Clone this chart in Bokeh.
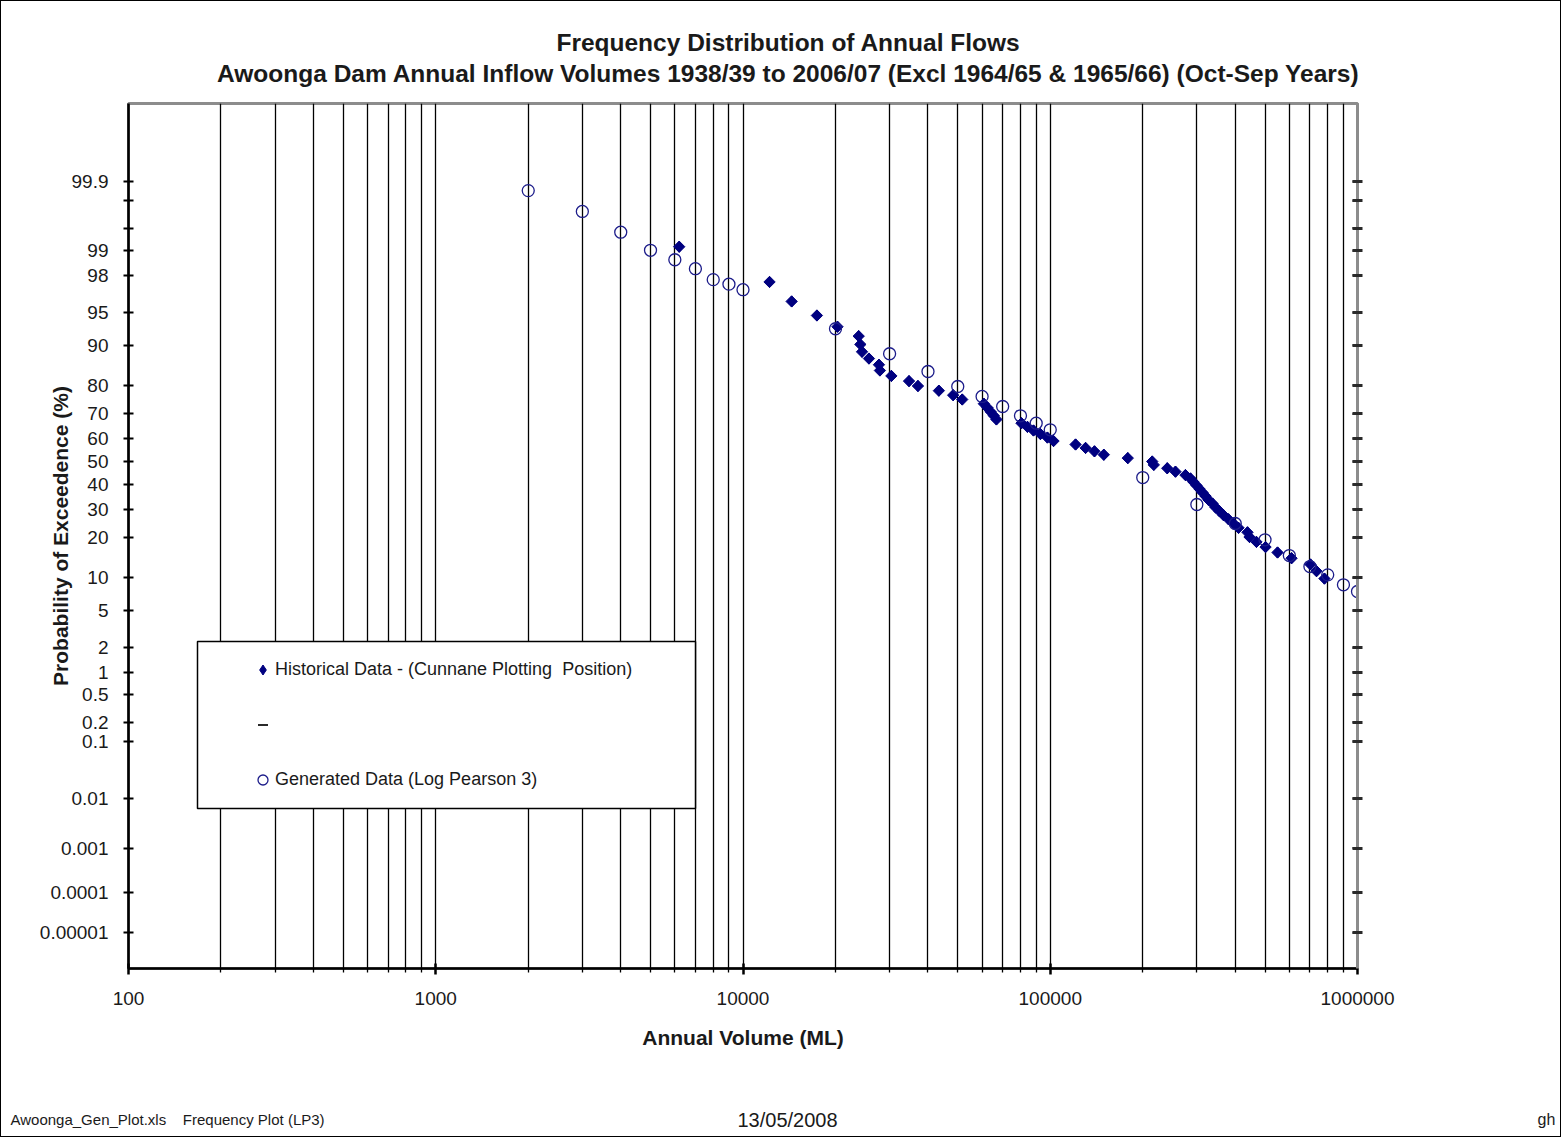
import math
from bokeh.plotting import figure
from bokeh.layouts import column
from bokeh.models import (Range1d, FixedTicker, LinearAxis, Label, Legend, LegendItem,
                          BoxAnnotation)
from bokeh.embed import file_html
from bokeh.resources import INLINE

# ---------------- data ----------------
# Generated data (Log Pearson 3): annual volume (ML) and exceedance probability (%)
gen_volume = [2000, 3000, 4000, 5000, 6000, 7000, 8000, 9000, 10000,
              20000, 30000, 40000, 50000, 60000, 70000, 80000, 90000, 100000,
              200000, 300000, 400000, 500000, 600000, 700000, 800000, 900000, 1000000]
gen_exceed = [99.86, 99.71, 99.43, 99.01, 98.70, 98.33, 97.76, 97.48, 97.10,
              92.85, 88.27, 83.97, 79.61, 76.35, 72.81, 69.30, 66.38, 63.68,
              42.98, 31.75, 24.69, 19.38, 14.97, 12.32, 10.55, 8.68, 7.57]

# Historical data (Cunnane plotting position)
hist_volume = [6200, 12200, 14400, 17400, 20300, 23800, 24100, 24400, 25700, 27700,
               27900, 30400, 34700, 37100, 43400, 48300, 51700, 60800, 62500, 64000,
               65500, 66800, 80600, 84300, 88200, 92900, 97900, 102500, 120900, 130300,
               139300, 149400, 178800, 214700, 217300, 240300, 255600, 275400, 286100, 292500,
               299200, 306000, 313000, 320200, 327300, 337400, 345000, 355500, 366400, 380300,
               394800, 410100, 438500, 445200, 469000, 502000, 549200, 610000, 703000, 735500,
               780600]
hist_exceed = [99.11, 97.62, 96.13, 94.64, 93.15, 91.67, 90.18, 88.69, 87.20, 85.71,
               84.23, 82.74, 81.25, 79.76, 78.27, 76.79, 75.30, 73.81, 72.32, 70.83,
               69.35, 67.86, 66.37, 64.88, 63.39, 61.90, 60.42, 58.93, 57.44, 55.95,
               54.46, 52.98, 51.49, 50.00, 48.51, 47.02, 45.54, 44.05, 42.56, 41.07,
               39.58, 38.10, 36.61, 35.12, 33.63, 32.14, 30.65, 29.17, 27.68, 26.19,
               24.70, 23.21, 21.73, 20.24, 18.75, 17.26, 15.77, 14.29, 12.80, 11.31,
               9.82]

# Probability axis ticks (%) and their labels
prob_ticks = [99.9, 99.8, 99.5, 99, 98, 95, 90, 80, 70, 60, 50, 40, 30, 20, 10,
              5, 2, 1, 0.5, 0.2, 0.1, 0.01, 0.001, 0.0001, 0.00001]
prob_tick_labels = ["99.9", "", "", "99", "98", "95", "90", "80", "70", "60", "50",
                    "40", "30", "20", "10", "5", "2", "1", "0.5", "0.2", "0.1",
                    "0.01", "0.001", "0.0001", "0.00001"]

# Volume axis ticks
x_ticks = [100, 1000, 10000, 100000, 1000000]
x_tick_labels = ["100", "1000", "10000", "100000", "1000000"]
x_minor_ticks = [m * d for d in (100, 1000, 10000, 100000) for m in range(2, 10)]

X_MIN, X_MAX = 100, 1000000
Z_BOTTOM, Z_TOP = -5.594, 3.95   # standard normal variate limits of the probability axis

TITLE_1 = "Frequency Distribution of Annual Flows"
TITLE_2 = ("Awoonga Dam Annual Inflow Volumes 1938/39 to 2006/07 "
           "(Excl 1964/65 & 1965/66) (Oct-Sep Years)")
FOOT_LEFT = "Awoonga_Gen_Plot.xls\u00a0\u00a0\u00a0\u00a0Frequency Plot (LP3)"
FOOT_DATE = "13/05/2008"
FOOT_RIGHT = "gh"


def norm_ppf(p):
    """Inverse standard normal CDF by bisection (probability-paper transform)."""
    lo, hi = -12.0, 12.0
    for _ in range(200):
        mid = 0.5 * (lo + hi)
        if 0.5 * math.erfc(-mid / math.sqrt(2.0)) < p:
            lo = mid
        else:
            hi = mid
    return 0.5 * (lo + hi)


gen_z = [norm_ppf(v / 100.0) for v in gen_exceed]
hist_z = [norm_ppf(v / 100.0) for v in hist_exceed]
tick_z = [norm_ppf(v / 100.0) for v in prob_ticks]

FONT = "Liberation Sans"
NAVY = "#000080"
TXT = "#1a1a1a"
W = 1559


def text_strip(height):
    f = figure(width=W, height=height, x_range=Range1d(0, 1), y_range=Range1d(0, 1),
               x_axis_location=None, y_axis_location=None, min_border=0,
               frame_align=False,
               output_backend="svg", toolbar_location=None,
               background_fill_color="white", border_fill_color="white")
    f.outline_line_color = None
    f.xgrid.visible = False
    f.ygrid.visible = False
    return f


def add_label(fig, x, y, text, size, bold=False, align="center"):
    fig.add_layout(Label(x=x, y=y, x_units="screen", y_units="screen", text=text,
                         text_font=FONT, text_font_size=size,
                         text_font_style="bold" if bold else "normal",
                         text_color=TXT, text_align=align, text_baseline="middle"))


# ---------------- header ----------------
hdr = text_strip(95)
add_label(hdr, 787, 54, TITLE_1, "24.5px", bold=True)
add_label(hdr, 787, 23, TITLE_2, "24.5px", bold=True)

# ---------------- main chart ----------------
p = figure(x_axis_type="log", x_range=Range1d(X_MIN, X_MAX), y_range=Range1d(Z_BOTTOM, Z_TOP),
           frame_width=1229, frame_height=865,
           min_border_left=127, min_border_right=203, min_border_top=7, min_border_bottom=118,
           frame_align=False,
           y_axis_location=None, output_backend="svg", toolbar_location=None,
           background_fill_color="white", border_fill_color="white")

p.outline_line_color = "#8c8c8c"
p.outline_line_width = 3

# vertical grid lines (major + minor)
xt = FixedTicker(ticks=x_ticks, minor_ticks=x_minor_ticks)
p.xgrid.ticker = xt
p.xgrid.grid_line_color = "black"
p.xgrid.grid_line_width = 1.3
p.xgrid.minor_grid_line_color = "black"
p.xgrid.minor_grid_line_width = 1.3
p.ygrid.visible = False

# x axis
xa = p.xaxis[0]
xa.ticker = xt
xa.major_label_overrides = {v: s for v, s in zip(x_ticks, x_tick_labels)}
xa.axis_line_color = "black"
xa.axis_line_width = 2.5
xa.major_tick_line_color = "black"
xa.major_tick_line_width = 2.5
xa.major_tick_in = 5
xa.major_tick_out = 6
xa.minor_tick_line_color = "black"
xa.minor_tick_line_width = 1.3
xa.minor_tick_in = 0
xa.minor_tick_out = 4
xa.major_label_text_font = FONT
xa.major_label_text_font_size = "19px"
xa.major_label_text_color = TXT
xa.major_label_standoff = 17
xa.axis_label = "Annual Volume (ML)"
xa.axis_label_text_font = FONT
xa.axis_label_text_font_style = "bold"
xa.axis_label_text_font_size = "21px"
xa.axis_label_text_color = TXT
xa.axis_label_standoff = 18

# y axes (probability scale)
yt = FixedTicker(ticks=tick_z, minor_ticks=[])
ylab = {z: s for z, s in zip(tick_z, prob_tick_labels)}

ya = LinearAxis(ticker=yt, major_label_overrides=ylab)
ya.axis_line_color = "black"
ya.axis_line_width = 2.5
ya.major_tick_line_color = "black"
ya.major_tick_line_width = 2
ya.major_tick_in = 5
ya.major_tick_out = 5
ya.minor_tick_line_color = None
ya.major_label_text_font = FONT
ya.major_label_text_font_size = "19px"
ya.major_label_text_color = TXT
ya.major_label_standoff = 15
ya.axis_label = "Probability of Exceedence (%)"
ya.axis_label_text_font = FONT
ya.axis_label_text_font_style = "bold"
ya.axis_label_text_font_size = "21px"
ya.axis_label_text_color = TXT
ya.axis_label_standoff = -35
p.add_layout(ya, "left")

yr = LinearAxis(ticker=yt, major_label_overrides={z: "" for z in tick_z})
yr.axis_line_color = "#8c8c8c"
yr.axis_line_width = 3
yr.major_tick_line_color = "#2a2a2a"
yr.major_tick_line_width = 3
yr.major_tick_in = 5
yr.major_tick_out = 5
yr.minor_tick_line_color = None
yr.major_label_text_font_size = "1px"
p.add_layout(yr, "right")

# series
r_dash = p.scatter([X_MAX] * len(tick_z), tick_z, marker="dash", size=10,
                   line_color="#2a2a2a", line_width=2)
# diamond symbol (legend key) under the square-diamond markers
r_hist_key = p.scatter(hist_volume, hist_z, marker="diamond", size=11,
                       fill_color=NAVY, line_color=NAVY, line_width=1)
r_hist = p.scatter(hist_volume, hist_z, marker="square", angle=math.pi / 4, size=8,
                   fill_color=NAVY, line_color=NAVY, line_width=1)
r_gen = p.scatter(gen_volume, gen_z, marker="circle", size=12,
                  fill_color=None, line_color="#1c1c8a", line_width=1.3)

# legend box + legend
p.add_layout(BoxAnnotation(left=69, right=567, bottom=160, top=327,
                           left_units="screen", right_units="screen",
                           bottom_units="screen", top_units="screen",
                           fill_color="white", fill_alpha=1,
                           line_color="black", line_alpha=1, line_width=1.5))

legend = Legend(items=[
    LegendItem(label="Historical Data - (Cunnane Plotting  Position)", renderers=[r_hist_key]),
    LegendItem(label=" ", renderers=[r_dash]),
    LegendItem(label="Generated Data (Log Pearson 3)", renderers=[r_gen]),
], location=(122, 176))
legend.border_line_color = None
legend.background_fill_alpha = 0
legend.label_text_font = FONT
legend.label_text_font_size = "18px"
legend.label_text_color = TXT
legend.padding = 10
legend.spacing = 30
legend.glyph_height = 25
legend.label_height = 25
legend.glyph_width = 25
legend.label_standoff = 0
legend.margin = 0
p.add_layout(legend, "center")

# ---------------- footer ----------------
ftr = text_strip(50)
add_label(ftr, 9, 17, FOOT_LEFT, "15px", align="left")
add_label(ftr, 786, 17, FOOT_DATE, "20px")
add_label(ftr, 1545, 17, FOOT_RIGHT, "16px")

layout = column(hdr, p, ftr, spacing=0, styles={"border": "1px solid black"})

open("out.html", "w").write(file_html(layout, INLINE))
